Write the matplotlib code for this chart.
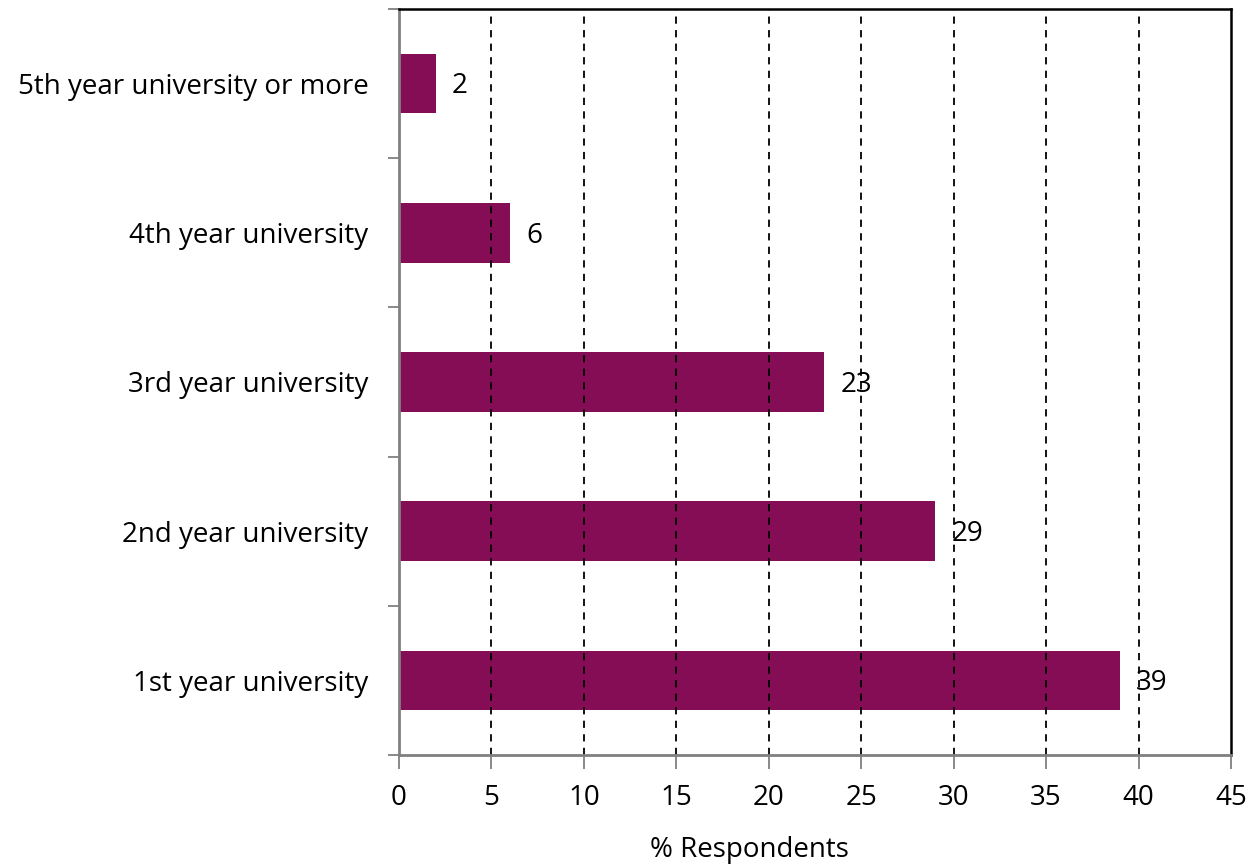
import numpy as np
import matplotlib.pyplot as plt

categories = ["1st year university", "2nd year university", "3rd year university",
              "4th year university", "5th year university or more"]
values = [39, 29, 23, 6, 2]
xticks = [0, 5, 10, 15, 20, 25, 30, 35, 40, 45]

plt.rcParams['font.family'] = ['Open Sans', 'DejaVu Sans']

fig = plt.figure(figsize=(12.51, 8.66), dpi=100)
ax = fig.add_axes([399/1251, 1 - 755/866, (1231 - 399)/1251, (755 - 9)/866])

y = np.arange(len(categories))
ax.barh(y, values, height=0.4, color="#840d55", zorder=1)
for yi, v in zip(y, values):
    ax.annotate(str(v), (v, yi), xytext=(11.5, -2), textcoords="offset points",
                va="center", ha="left", fontsize=20, zorder=3)

ax.set_xlim(0, 45)
ax.set_ylim(-0.5, len(categories) - 0.5)
ax.set_xticks(xticks)
ax.set_xticklabels([str(t) for t in xticks], fontsize=20)
for t in xticks[1:-1]:
    ax.axvline(t, color="black", linestyle=(0, (4, 3.5)), linewidth=1.3, zorder=2)

ax.set_yticks(y)
ax.set_yticklabels(categories, fontsize=20)
ax.set_yticks(np.arange(len(categories) + 1) - 0.5, minor=True)
ax.tick_params(axis="y", which="major", length=0, pad=22)
ax.tick_params(axis="y", which="minor", length=8, color="#808080", width=1.3)
ax.tick_params(axis="x", length=10, color="#808080", width=1.3, pad=11)

for s in ["left", "bottom"]:
    ax.spines[s].set_color("#808080")
    ax.spines[s].set_linewidth(2)
for s in ["top", "right"]:
    ax.spines[s].set_color("black")
    ax.spines[s].set_linewidth(1.8)

fig.text(749/1251, 1 - 850/866, "% Respondents", ha="center", va="center", fontsize=20)

fig.savefig("out.png", dpi=100)
